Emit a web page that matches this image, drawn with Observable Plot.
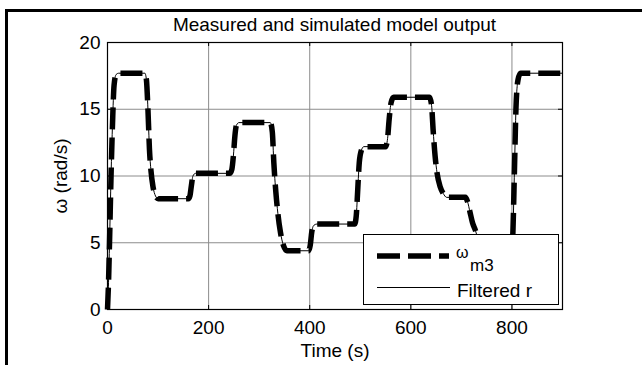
<!DOCTYPE html>
<html>
<head>
<meta charset="utf-8">
<script src="https://cdn.jsdelivr.net/npm/d3@7"></script>
<script src="https://cdn.jsdelivr.net/npm/@observablehq/plot@0.6"></script>
<style>
  html, body { margin: 0; padding: 0; background: #fff; }
  #wrap { position: relative; width: 642px; height: 365px; overflow: hidden; background: #fff;
          font-family: "Liberation Sans", Arial, Helvetica, sans-serif; color: #000; }
  #title { height: 38px; box-sizing: border-box; padding-top: 14px; line-height: 22px;
           margin-left: 107px; width: 455px; text-align: center; font-size: 19px; white-space: nowrap; }
  .edgeTop { position: absolute; left: 5px; top: 9px; width: 637px; height: 3px; background: #000; }
  .edgeLeft { position: absolute; left: 5px; top: 9px; width: 3px; height: 356px; background: #000; }
  #legend { position: absolute; left: 363px; top: 234px; }
</style>
</head>
<body>
<div id="wrap">
  <div id="title">Measured and simulated model output</div>
  <div id="chart"></div>
  <div class="edgeTop"></div>
  <div class="edgeLeft"></div>
  <svg id="legend" width="196" height="71" font-family="Liberation Sans, Arial, sans-serif">
    <rect x="0.5" y="0.5" width="195" height="70" fill="#fff" stroke="#000" stroke-width="1"></rect>
    <line x1="14" x2="86" y1="22" y2="22" stroke="#000" stroke-width="5.5" stroke-dasharray="23 8"></line>
    <text x="93" y="24" font-size="16">ω</text>
    <text x="107" y="37" font-size="17">m3</text>
    <line x1="14" x2="87" y1="53.5" y2="53.5" stroke="#000" stroke-width="1"></line>
    <text x="94" y="63" font-size="19">Filtered r</text>
  </svg>
</div>
<script>
// ---- data ----
const time = [
  0, 2, 4, 7, 10, 13, 17, 22,
  74, 77, 80, 83, 86, 90, 95, 100,
  160, 163, 166, 169, 174,
  242, 246, 249, 252, 255, 260,
  322, 326, 329, 333, 337, 342, 348, 355,
  398, 401, 404, 408, 414,
  489, 492, 495, 498, 502, 507,
  550, 554, 557, 561, 566,
  637, 641, 644, 648, 652, 658, 664, 671,
  708, 712, 717, 722, 728, 733, 740, 750,
  795, 798, 802, 805, 808, 812, 817, 900
];
const omegaM3 = [
  0, 2, 5, 10, 14, 16.8, 17.6, 17.7,
  17.7, 17.2, 15, 12, 10.4, 9.2, 8.5, 8.3,
  8.3, 8.5, 9.3, 10, 10.2,
  10.2, 10.5, 11.5, 13, 13.8, 14.0,
  14.0, 13.3, 11, 8.8, 7.2, 5.8, 4.8, 4.4,
  4.4, 4.8, 5.8, 6.3, 6.4,
  6.4, 7, 9, 11, 11.9, 12.2,
  12.2, 12.8, 14.2, 15.5, 15.9,
  15.9, 15.3, 13.5, 11.5, 10.2, 9.2, 8.7, 8.4,
  8.4, 8.1, 7.3, 6.5, 5.9, 5.2, 4, 3,
  3, 3.5, 5.9, 10.5, 15.1, 17.2, 17.7, 17.7
];
const filteredR = [
  0, 2, 5, 10, 14, 16.8, 17.6, 17.7,
  17.7, 17.2, 15, 12, 10.4, 9.2, 8.5, 8.3,
  8.3, 8.5, 9.3, 10, 10.2,
  10.2, 10.5, 11.5, 13, 13.8, 14.0,
  14.0, 13.3, 11, 8.8, 7.2, 5.8, 4.8, 4.4,
  4.4, 4.8, 5.8, 6.3, 6.4,
  6.4, 7, 9, 11, 11.9, 12.2,
  12.2, 12.8, 14.2, 15.5, 15.9,
  15.9, 15.3, 13.5, 11.5, 10.2, 9.2, 8.7, 8.4,
  8.4, 8.1, 7.3, 6.5, 5.9, 5.2, 4, 3,
  3, 3.5, 5.9, 10.5, 15.1, 17.2, 17.7, 17.7
];
const xTicks = [0, 200, 400, 600, 800];
const yTicks = [0, 5, 10, 15, 20];
const xGrid = [200, 400, 600, 800];
const yGrid = [5, 10, 15];

const rows = time.map((t, i) => ({t, w: omegaM3[i], r: filteredR[i]}));

const W = 642, H = 327;
const mL = 107, mR = 80, mT = 4, mB = 56;
const fw = W - mL - mR, fh = H - mT - mB;
const tk = 4;

const chart = Plot.plot({
  width: W, height: H,
  marginLeft: mL, marginRight: mR, marginTop: mT, marginBottom: mB,
  style: {fontFamily: "Liberation Sans, Arial, sans-serif", fontSize: "19px", color: "#000", background: "#fff", overflow: "visible"},
  x: {domain: [0, 900]},
  y: {domain: [0, 20]},
  marks: [
    Plot.gridX(xGrid, {stroke: "#8c8c8c", strokeOpacity: 1, strokeWidth: 1}),
    Plot.gridY(yGrid, {stroke: "#8c8c8c", strokeOpacity: 1, strokeWidth: 1}),
    Plot.tickX(xTicks.concat([900]), {x: d => d, insetTop: fh - tk, stroke: "#000"}),
    Plot.tickX(xTicks.concat([900]), {x: d => d, insetBottom: fh - tk, stroke: "#000"}),
    Plot.tickY(yTicks, {y: d => d, insetRight: fw - tk, stroke: "#000"}),
    Plot.tickY(yTicks, {y: d => d, insetLeft: fw - tk, stroke: "#000"}),
    Plot.line(rows, {x: "t", y: "w", stroke: "#000", strokeWidth: 5.5, strokeDasharray: "22 8",
                     strokeLinejoin: "round", strokeLinecap: "butt", curve: "monotone-x"}),
    Plot.line(rows, {x: "t", y: "r", stroke: "#000", strokeWidth: 1, curve: "monotone-x"}),
    Plot.frame({stroke: "#000", strokeWidth: 1.2}),
    Plot.axisX(xTicks, {tickSize: 0, tickPadding: 11, label: "Time (s)", labelAnchor: "center",
                        labelArrow: "none", labelOffset: 47}),
    Plot.axisY(yTicks, {tickSize: 0, tickPadding: 7, label: "ω (rad/s)", labelAnchor: "center",
                        labelArrow: "none", labelOffset: 54})
  ]
});
document.getElementById("chart").appendChild(chart);
</script>
</body>
</html>
